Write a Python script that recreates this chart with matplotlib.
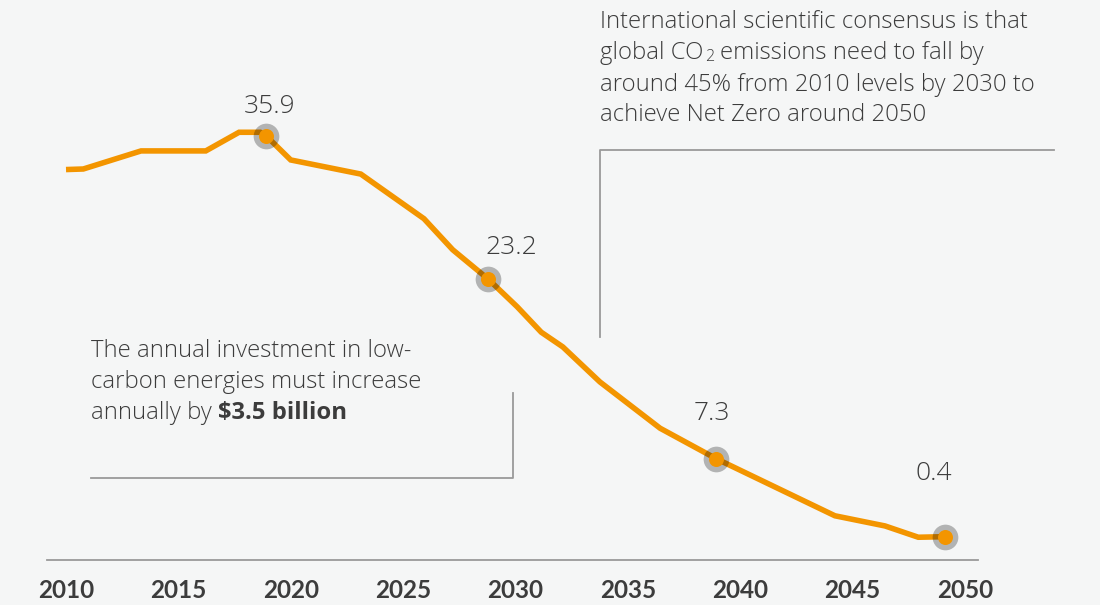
import matplotlib.pyplot as plt

# emissions path (GtCO2)
years = [2010.0, 2010.77, 2013.34, 2016.22, 2017.7, 2018.65, 2018.9, 2020.0,
         2023.12, 2025.93, 2027.21, 2028.79, 2030.08, 2031.15, 2032.11,
         2033.76, 2036.44, 2038.94, 2044.22, 2046.45, 2047.93, 2049.12]
emissions = [32.9, 32.95, 34.55, 34.55, 36.2, 36.2, 35.9, 33.75,
             32.5, 28.55, 25.8, 23.2, 20.75, 18.5, 17.2,
             14.1, 10.0, 7.3, 2.25, 1.35, 0.35, 0.4]

# highlighted points
marker_years = [2018.9, 2028.79, 2038.94, 2049.12]
marker_values = [35.9, 23.2, 7.3, 0.4]
marker_labels = ["35.9", "23.2", "7.3", "0.4"]

tick_years = [2010, 2015, 2020, 2025, 2030, 2035, 2040, 2045, 2050]
tick_labels = [str(y) for y in tick_years]

right_note = ["International scientific consensus is that",
              "global CO", "2", "emissions need to fall by",
              "around 45% from 2010 levels by 2030 to",
              "achieve Net Zero around 2050"]
left_note = ["The annual investment in low-",
             "carbon energies must increase",
             "annually by", r"\$3.5 billion"]

BG = "#f5f6f6"
ORANGE = "#f39500"
TXT = "#3c3c3c"
GREY = "#9a9a9a"
W, H = 1100, 605
NOTE_FONT = ["Open Sans", "DejaVu Sans"]

plt.rcParams["font.family"] = ["Lato", "DejaVu Sans"]

fig = plt.figure(figsize=(11, 6.05), dpi=100, facecolor=BG)


def px(x, y):
    return x / W, 1 - y / H


ax = fig.add_axes([47 / W, 1 - 560 / H, 931 / W, 560 / H])
ax.set_facecolor(BG)
ax.set_xlim(2009.154, 2050.587)
ax.set_ylim(-1.664, 47.91)

ax.plot(years, emissions, color=ORANGE, lw=4.0, solid_joinstyle="miter",
        solid_capstyle="butt", zorder=2)
ax.plot(marker_years, marker_values, "o", ms=18.5, color="black", alpha=0.27,
        mew=0, zorder=3)
ax.plot(marker_years, marker_values, "o", ms=10.8, color=ORANGE, mew=0, zorder=4)

label_offsets = [(4, 22.7), (23.5, 24.7), (-4, 38.7), (-11, 56.7)]
for xv, yv, lab, off in zip(marker_years, marker_values, marker_labels, label_offsets):
    ax.annotate(lab, (xv, yv), xytext=off, textcoords="offset pixels",
                ha="center", va="baseline", fontsize=19, color=TXT,
                family=NOTE_FONT, fontweight="light")

for s in ["top", "right", "left"]:
    ax.spines[s].set_visible(False)
ax.spines["bottom"].set_color(GREY)
ax.spines["bottom"].set_linewidth(1.3)
ax.set_yticks([])
ax.set_xticks(tick_years)
ax.set_xticklabels(tick_labels, fontsize=17.5, fontweight="bold", color=TXT)
ax.tick_params(axis="x", length=0, pad=14)

# right note
fs = 17.2
kw = dict(fontsize=fs, color=TXT, family=NOTE_FONT)
lt = dict(fontweight="light")
fig.text(*px(600, 28.3), right_note[0], va="baseline", **kw, **lt)
t = fig.text(*px(600, 59.3), right_note[1], va="baseline", **kw, **lt)
t2 = ax.annotate(right_note[2], xy=(1, 0), xycoords=t, xytext=(1, 0),
                 textcoords="offset points", fontsize=11.5, color=TXT,
                 family=NOTE_FONT, va="bottom", ha="left",
                 annotation_clip=False, **lt)
ax.annotate(right_note[3], xy=(1, 0), xycoords=t2, xytext=(4.5, 0),
            textcoords="offset points", va="bottom", ha="left",
            annotation_clip=False, **kw, **lt)
fig.text(*px(600, 90.7), right_note[4], va="baseline", **kw, **lt)
fig.text(*px(600, 120.7), right_note[5], va="baseline", **kw, **lt)

# left note
fig.text(*px(91, 356.7), left_note[0], va="baseline", **kw, **lt)
fig.text(*px(91, 388.3), left_note[1], va="baseline", **kw, **lt)
t3 = fig.text(*px(91, 419.3), left_note[2], va="baseline", **kw, **lt)
ax.annotate(left_note[3], xy=(1, 0), xycoords=t3, xytext=(4.5, 0),
            textcoords="offset points", fontweight="bold", va="bottom",
            ha="left", annotation_clip=False, **kw)

# leader lines
for xs, ys in [([91, 513, 513], [477.5, 477.5, 393]),
               ([600, 600, 1054], [337, 149.5, 149.5])]:
    fx = [x / W for x in xs]
    fy = [1 - y / H for y in ys]
    fig.add_artist(plt.Line2D(fx, fy, color=GREY, lw=1.3))

fig.savefig("out.png", dpi=100, facecolor=BG)
